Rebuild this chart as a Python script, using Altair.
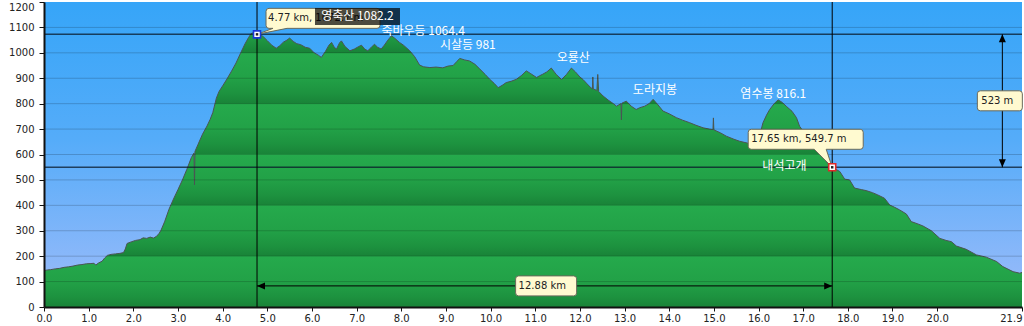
import altair as alt
import pandas as pd

# ---------------- data ----------------
dist_km = [0.00, 0.08, 0.15, 0.25, 0.35, 0.45, 0.55, 0.65, 0.75, 0.85, 0.95, 1.05, 1.12, 1.16, 1.22,
           1.30, 1.36, 1.42, 1.50, 1.60, 1.70, 1.78, 1.82, 1.86, 1.95, 2.05, 2.15, 2.22, 2.30, 2.38,
           2.45, 2.52, 2.58, 2.62, 2.70, 2.80, 2.90, 3.00, 3.10, 3.20, 3.30, 3.36, 3.37, 3.38, 3.45,
           3.55, 3.65, 3.72, 3.78, 3.86, 3.92, 4.00, 4.10, 4.20, 4.30, 4.40, 4.50, 4.58, 4.64, 4.70,
           4.74, 4.77, 4.85, 4.92, 5.00, 5.10, 5.20, 5.28, 5.36, 5.44, 5.50, 5.58, 5.66, 5.75, 5.85,
           5.95, 6.05, 6.15, 6.21, 6.30, 6.38, 6.44, 6.50, 6.55, 6.62, 6.66, 6.74, 6.85, 6.95, 7.05,
           7.11, 7.18, 7.25, 7.32, 7.40, 7.47, 7.55, 7.62, 7.70, 7.78, 7.85, 7.96, 8.05, 8.19, 8.30,
           8.41, 8.50, 8.64, 8.78, 8.93, 9.05, 9.16, 9.24, 9.31, 9.42, 9.53, 9.65, 9.76, 9.88, 9.98,
           10.08, 10.17, 10.26, 10.35, 10.46, 10.58, 10.70, 10.80, 10.90, 11.03, 11.10, 11.17, 11.26,
           11.36, 11.47, 11.59, 11.70, 11.81, 11.90, 12.00, 12.07, 12.16, 12.25, 12.28, 12.29, 12.30,
           12.38, 12.40, 12.42, 12.52, 12.65, 12.75, 12.82, 12.92, 12.93, 12.94, 13.04, 13.15, 13.26,
           13.34, 13.45, 13.55, 13.64, 13.75, 13.86, 14.00, 14.16, 14.30, 14.46, 14.60, 14.76, 14.90,
           14.98, 14.99, 15.00, 15.15, 15.28, 15.45, 15.58, 15.75, 15.88, 15.98, 16.10, 16.18, 16.25,
           16.35, 16.44, 16.53, 16.62, 16.75, 16.85, 16.92, 17.05, 17.15, 17.29, 17.45, 17.55, 17.65,
           17.82, 17.93, 18.04, 18.15, 18.30, 18.41, 18.55, 18.67, 18.82, 18.94, 19.05, 19.16, 19.31,
           19.42, 19.55, 19.68, 19.87, 20.06, 20.20, 20.32, 20.43, 20.65, 20.88, 21.10, 21.33, 21.47,
           21.70, 21.85, 21.90]
elev_m = [143, 146, 147, 150, 152, 156, 158, 161, 165, 167, 170, 171, 172, 165, 173,
          180, 193, 203, 207, 209, 211, 214, 228, 250, 256, 262, 265, 272, 270, 275,
          271, 278, 290, 302, 335, 385, 425, 462, 500, 542, 588, 606, 480, 612, 640,
          680, 712, 738, 765, 822, 848, 870, 898, 928, 960, 998, 1035, 1060, 1076, 1080,
          1075, 1072.7, 1072, 1062, 1048, 1030, 1018, 1028, 1042, 1050, 1058, 1045, 1036, 1032, 1022,
          1018, 1000, 990, 982, 1005, 1030, 1041, 1022, 1015, 1040, 1047, 1025, 1008, 1015, 1025,
          1030, 1015, 1008, 1020, 1034, 1022, 1015, 1030, 1050, 1067, 1058, 1041, 1030, 1008, 985,
          952, 945, 942, 944, 941, 948, 950, 965, 978, 972, 968, 955, 936, 915, 896,
          880, 863, 872, 883, 888, 896, 912, 929, 918, 903, 910, 916, 925,
          940, 915, 895, 915, 940, 925, 905, 895, 878, 862, 858, 905, 858,
          852, 915, 848, 830, 812, 800, 790, 800, 736, 802, 810, 790, 777,
          784, 790, 800, 817, 795, 771, 760, 745, 735, 725, 715, 705, 700,
          698, 744, 697, 685, 672, 660, 652, 645, 638, 645, 725, 755, 777,
          800, 815, 805, 790, 770, 745, 711, 680, 655, 617, 590, 565, 549.7,
          533, 503, 500, 468, 462, 458, 450, 441, 428, 401, 392, 382, 366,
          336, 328, 319, 300, 270, 262, 257, 240, 227, 205, 196, 179, 159,
          139, 133, 136]

x_ticks = [float(i) for i in range(21)] + [21.9]
y_ticks = list(range(0, 1300, 100))
grid_m = y_ticks[1:-1]

pick_km = [4.77, 17.65]
pick_m = [1072.7, 549.7]
pick_text = ["4.77 km, 1072.7 m", "17.65 km, 549.7 m"]
span_text = "12.88 km"
span_m = 83
rise_text = "523 m"
rise_km = 21.46

top_name = "영축산 1082.2"
top_km = 7.02
top_m = 1143
peak_names = ["죽바우등 1064.4", "시살등 981", "오룡산", "도라지봉", "염수봉 816.1", "내석고개"]
peak_km = [8.49, 9.49, 11.85, 13.68, 16.33, 16.58]
peak_m = [1086, 1031, 980, 854, 838, 553]

# ---------------- styling ----------------
W, H = 978, 305
AX_FONT = "DejaVu Sans"
KR_FONT = "Noto Sans CJK KR"

xscale = alt.Scale(domain=[x_ticks[0], x_ticks[-1]], nice=False, zero=False)
yscale = alt.Scale(domain=[y_ticks[0], y_ticks[-1]], nice=False)

xaxis = alt.Axis(values=x_ticks, format=".1f", title=None, grid=False, labelFlush=False,
                 labelAlign={"condition": {"test": "datum.value > 21", "value": "right"}, "value": "center"},
                 tickSize=4, labelPadding=2, domainColor="#111111", domainWidth=2,
                 tickColor="#111111", tickWidth=1, labelFont=AX_FONT, labelFontSize=10,
                 labelColor="#222222", zindex=1)
yaxis = alt.Axis(values=y_ticks, format="d", title=None, grid=False, labelFlush=False,
                 labelBaseline={"condition": {"test": "datum.value >= 1200", "value": "top"}, "value": "middle"},
                 tickSize=5, labelPadding=5, domainColor="#111111", domainWidth=2,
                 tickColor="#111111", tickWidth=1, labelFont=AX_FONT, labelFontSize=10,
                 labelColor="#222222", zindex=1)


def X(field):
    return alt.X(f"{field}:Q", scale=xscale, axis=xaxis)


def Y(field):
    return alt.Y(f"{field}:Q", scale=yscale, axis=yaxis)


sky_grad = alt.LinearGradient(
    gradient="linear", x1=0, x2=0, y1=0, y2=1,
    stops=[alt.GradientStop(color="#36a5f8", offset=0),
           alt.GradientStop(color="#55acf9", offset=0.45),
           alt.GradientStop(color="#9fbcfa", offset=1)])

# banded green fill: each 200 m band bright at top, darker toward its bottom
emax = max(elev_m)
band = [(0.0, "#25aa4c"), (0.5, "#22a147"), (0.8, "#1d923f"), (0.995, "#198338")]
green_stops = [alt.GradientStop(color="#22a147", offset=0)]
for top in range(1200, 0, -200):
    for frac, col in band:
        e = top - frac * 200
        off = (emax - e) / emax
        if 0 < off <= 1:
            green_stops.append(alt.GradientStop(color=col, offset=round(off, 5)))
green_grad = alt.LinearGradient(gradient="linear", x1=0, x2=0, y1=0, y2=1, stops=green_stops)

# ---------------- layers ----------------
bg_df = pd.DataFrame({"x0": [x_ticks[0]], "x1": [x_ticks[-1]], "y0": [y_ticks[0]], "y1": [y_ticks[-1]]})
bg = alt.Chart(bg_df).mark_rect(fill=sky_grad, opacity=1).encode(
    x=X("x0"), x2="x1", y=Y("y0"), y2="y1")

prof = pd.DataFrame({"km": dist_km, "m": elev_m})
area = alt.Chart(prof).mark_area(fill=green_grad, opacity=1).encode(x=X("km"), y=Y("m"))
outline = alt.Chart(prof).mark_line(color="#4a5552", strokeWidth=1).encode(x=X("km"), y=Y("m"))

grid = alt.Chart(pd.DataFrame({"m": grid_m})).mark_rule(color="#000000", opacity=0.18, strokeWidth=1).encode(y=Y("m"))

picks = pd.DataFrame({"km": pick_km, "m": pick_m, "txt": pick_text,
                      "col": ["#1838d8", "#e02828"]})
hrules = alt.Chart(picks).mark_rule(color="#0a1a2a", opacity=0.75, strokeWidth=1.5).encode(y=Y("m"))
vrules = alt.Chart(picks).mark_rule(color="#000000", strokeWidth=1).encode(x=X("km"))

span_df = pd.DataFrame({"k0": [pick_km[0]], "k1": [pick_km[1]], "m": [span_m],
                        "kc": [(pick_km[0] + pick_km[1]) / 2], "txt": [span_text]})
span_rule = alt.Chart(span_df).mark_rule(color="#000000", strokeWidth=1).encode(x=X("k0"), x2="k1", y=Y("m"))

rise_df = pd.DataFrame({"km": [rise_km], "m0": [pick_m[0]], "m1": [pick_m[1]],
                        "mc": [(pick_m[0] + pick_m[1]) / 2], "txt": [rise_text]})
rise_rule = alt.Chart(rise_df).mark_rule(color="#000000", strokeWidth=1).encode(x=X("km"), y=Y("m0"), y2="m1")

heads_df = pd.DataFrame({
    "km": [pick_km[0], pick_km[1], rise_km, rise_km],
    "m": [span_m, span_m, pick_m[0], pick_m[1]],
    "shp": ["M0,0 L8,-3.5 L8,3.5 Z", "M0,0 L-8,-3.5 L-8,3.5 Z",
            "M0,0 L-3.5,8 L3.5,8 Z", "M0,0 L-3.5,-8 L3.5,-8 Z"]})
heads = alt.Chart(heads_df).mark_point(filled=True, size=4, opacity=1, fill="#000000", strokeWidth=0).encode(
    x=X("km"), y=Y("m"), shape=alt.Shape("shp:N", scale=None, legend=None))

peaks_df = pd.DataFrame({"km": peak_km, "m": peak_m, "name": peak_names})
peaks = alt.Chart(peaks_df).mark_text(font=KR_FONT, fontSize=12, color="#ffffff", align="center",
                                      baseline="middle").encode(x=X("km"), y=Y("m"), text="name:N")

box_df = pd.DataFrame({
    "km": [pick_km[0], pick_km[1], (pick_km[0] + pick_km[1]) / 2, rise_km],
    "m": [pick_m[0], pick_m[1], span_m, (pick_m[0] + pick_m[1]) / 2],
    "shp": [
        "M0,0 L30,-6 L120,-6 Q123,-6 123,-9 L123,-23 Q123,-26 120,-26 L12,-26 Q9,-26 9,-23 L9,-9 Q9,-6 12,-6 L16,-6 Z",
        "M0,0 L-6,-18 L28,-18 Q31,-18 31,-21 L31,-35 Q31,-38 28,-38 L-81,-38 Q-84,-38 -84,-35 L-84,-21 Q-84,-18 -81,-18 L-18,-18 Z",
        "M-26,-10 L29,-10 Q32,-10 32,-7 L32,7 Q32,10 29,10 L-26,10 Q-29,10 -29,7 L-29,-7 Q-29,-10 -26,-10 Z",
        "M-22,-10 L17,-10 Q20,-10 20,-7 L20,7 Q20,10 17,10 L-22,10 Q-25,10 -25,7 L-25,-7 Q-25,-10 -22,-10 Z"]})
boxes = alt.Chart(box_df).mark_point(filled=True, size=4, opacity=1, fill="#fffad0", stroke="#6a6a5a",
                                     strokeWidth=1).encode(
    x=X("km"), y=Y("m"), shape=alt.Shape("shp:N", scale=None, legend=None))

tip_style = dict(font=AX_FONT, fontSize=10, color="#222222", baseline="middle")
tip1 = alt.Chart(picks.iloc[[0]]).mark_text(align="left", dx=11, dy=-16, **tip_style).encode(
    x=X("km"), y=Y("m"), text="txt:N")
tip2 = alt.Chart(picks.iloc[[1]]).mark_text(align="left", dx=-81, dy=-28, **tip_style).encode(
    x=X("km"), y=Y("m"), text="txt:N")
span_txt = alt.Chart(span_df).mark_text(align="left", dx=-26, dy=0, **tip_style).encode(
    x=X("kc"), y=Y("m"), text="txt:N")
rise_txt = alt.Chart(rise_df).mark_text(align="center", dx=-5, dy=0, **tip_style).encode(
    x=X("km"), y=Y("mc"), text="txt:N")

top_df = pd.DataFrame({"km": [top_km], "m": [top_m], "name": [top_name],
                       "shp": ["M-42.5,-8.5 L42.5,-8.5 L42.5,8.5 L-42.5,8.5 Z"]})
top_bg = alt.Chart(top_df).mark_point(filled=True, size=4, opacity=0.7, fill="#000000", strokeWidth=0).encode(
    x=X("km"), y=Y("m"), shape=alt.Shape("shp:N", scale=None, legend=None))
top_lbl = alt.Chart(top_df).mark_text(font=KR_FONT, fontSize=12, color="#ffffff", align="center",
                                      baseline="middle").encode(x=X("km"), y=Y("m"), text="name:N")

markers = alt.Chart(picks).mark_point(shape="square", size=49, filled=True, opacity=1, fill="#ffffff",
                                      strokeWidth=1.6).encode(
    x=X("km"), y=Y("m"), stroke=alt.Stroke("col:N", scale=None, legend=None))
dots = alt.Chart(picks).mark_point(shape="square", size=6, filled=True, opacity=1, fill="#222222",
                                   strokeWidth=0).encode(x=X("km"), y=Y("m"))

chart = alt.layer(
    bg, area, outline, grid, hrules, vrules, span_rule, rise_rule, heads, peaks,
    boxes, tip1, tip2, span_txt, rise_txt, top_bg, top_lbl, markers, dots
).properties(
    width=W, height=H, autosize="none",
    padding={"left": 44, "top": 2, "right": 2, "bottom": 19}
).configure_view(stroke=None)

chart.save("out.html", embed_options={"renderer": "svg", "actions": False})
